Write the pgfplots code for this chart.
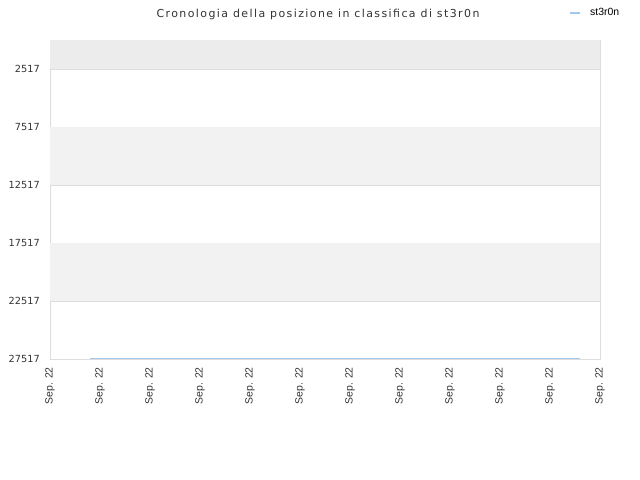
\documentclass[border=0pt]{standalone}
\usepackage{pgfplots}
\pgfplotsset{compat=1.18}
\usepackage{fontspec}
\setmainfont{DejaVu Sans}
\newfontfamily\arialf{Liberation Sans}
\newfontfamily\titlef[LetterSpace=13]{DejaVu Sans}
\definecolor{band1}{HTML}{ECECEC}
\definecolor{band2}{HTML}{F2F2F2}
\definecolor{gridc}{HTML}{DDDDDD}
\definecolor{txt}{HTML}{333333}
\definecolor{linec}{HTML}{A0C8F0}
\begin{document}
\begin{tikzpicture}[x=1bp,y=1bp]
\useasboundingbox (0,0) rectangle (640,480);
\node[font=\titlef\fontsize{11}{13}\selectfont, text=txt] at (318,466) {Cronologia della posizione in classifica di st3r0n};
\begin{axis}[
  at={(50bp,121bp)}, anchor=south west,
  scale only axis, width=550bp, height=319bp,
  xmin=0, xmax=11, ymin=17, ymax=27517, y dir=reverse,
  axis line style={gridc},
  xtick={0,1,...,11},
  xticklabels={Sep. 22,Sep. 22,Sep. 22,Sep. 22,Sep. 22,Sep. 22,Sep. 22,Sep. 22,Sep. 22,Sep. 22,Sep. 22,Sep. 22},
  xticklabel style={rotate=90, anchor=east, font=\arialf\fontsize{10.5}{12}\selectfont, text=txt, inner ysep=2bp, inner xsep=8bp},
  ytick={2517,7517,12517,17517,22517,27517},
  yticklabel style={font=\fontsize{9.8}{12}\selectfont, text=txt, inner ysep=2bp, inner xsep=10bp},
  scaled y ticks=false,
  /pgf/number format/assume math mode=true,
  /pgf/number format/set thousands separator={},
  major tick length=0pt,
  ymajorgrids, grid style={gridc, line width=0.6bp},
  legend style={at={(axis description cs:0.9436,1.0846)}, anchor=west, draw=none, fill=none, font=\arialf\fontsize{10.5}{12}\selectfont, inner sep=0pt, outer sep=0pt},
  legend image code/.code={\draw[#1] (0bp,0bp) -- (10bp,0bp);},
  legend cell align=left,
  clip=true,
]
\fill[band1] (axis cs:0,17) rectangle (axis cs:11,2517);
\fill[band2] (axis cs:0,7517) rectangle (axis cs:11,12517);
\fill[band2] (axis cs:0,17517) rectangle (axis cs:11,22517);
\addplot[linec, line width=1.2bp] coordinates {(0.8,27480) (10.6,27480)};
\addlegendentry{\hspace{8bp}st3r0n}
\end{axis}
\end{tikzpicture}
\end{document}
